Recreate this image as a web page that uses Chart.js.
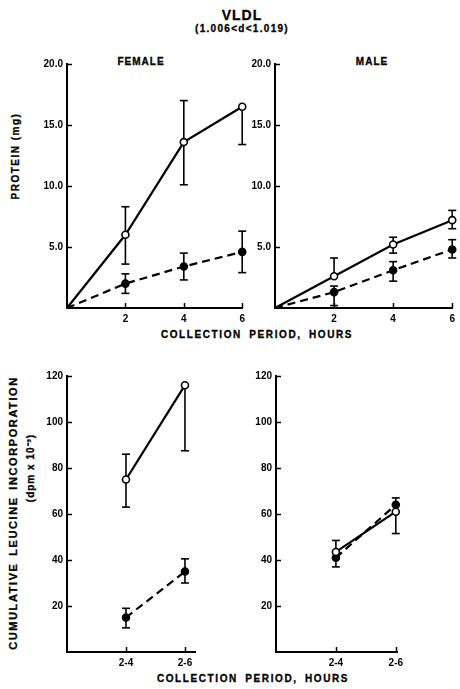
<!DOCTYPE html>
<html>
<head>
<meta charset="utf-8">
<script src="https://cdn.jsdelivr.net/npm/chart.js@4"></script>
<style>
  html, body { margin:0; padding:0; background:#fff; }
  #wrap { position:relative; width:460px; height:689px; overflow:hidden; background:#fff;
          font-family:"Liberation Sans", Arial, sans-serif; font-weight:bold; color:#000; }
  canvas { position:absolute; }
  .t { position:absolute; white-space:nowrap; transform:translate(-50%,-50%); line-height:1;
       -webkit-text-stroke:0.3px #000; }
  .r { transform:translate(-50%,-50%) rotate(-90deg); }
</style>
</head>
<body>
<div id="wrap">
  <div class="t" style="left:242px;top:15px;font-size:14px;letter-spacing:1px;">VLDL</div>
  <div class="t" style="left:242px;top:29px;font-size:10px;letter-spacing:1.3px;">(1.006&lt;d&lt;1.019)</div>
  <div class="t" style="left:141px;top:62px;font-size:10px;letter-spacing:1px;">FEMALE</div>
  <div class="t" style="left:372px;top:62px;font-size:10px;letter-spacing:1px;">MALE</div>
  <div class="t r" style="left:16px;top:156px;font-size:10px;letter-spacing:1.5px;">PROTEIN (mg)</div>
  <div class="t" style="left:257px;top:335px;font-size:10px;letter-spacing:1.6px;word-spacing:3px;">COLLECTION PERIOD, HOURS</div>
  <div class="t r" style="left:13px;top:513px;font-size:11px;letter-spacing:1.6px;word-spacing:2px;">CUMULATIVE LEUCINE INCORPORATION</div>
  <div class="t r" style="left:31px;top:468px;font-size:10px;letter-spacing:1px;">(dpm x 10⁻³)</div>
  <div class="t" style="left:253px;top:679px;font-size:10px;letter-spacing:1.6px;word-spacing:3px;">COLLECTION PERIOD, HOURS</div>

  <canvas id="c1" width="250" height="290" style="left:0px;top:50px;"></canvas>
  <canvas id="c2" width="230" height="290" style="left:230px;top:50px;"></canvas>
  <canvas id="c3" width="240" height="320" style="left:0px;top:360px;"></canvas>
  <canvas id="c4" width="230" height="320" style="left:230px;top:360px;"></canvas>
</div>
<script>
// ---------------- DATA ----------------
const hours = [0, 2, 4, 6];
const hourTicks = [2, 4, 6];
const proteinTicks = [5, 10, 15, 20];

const femaleOpen      = [0, 6.0, 13.6, 16.5];
const femaleOpenLow   = [null, 3.6, 10.1, 13.4];
const femaleOpenHigh  = [null, 8.3, 17.0, 16.5];
const femaleFilled    = [0, 2.0, 3.4, 4.6];
const femaleFilledLow = [null, 1.2, 2.3, 2.9];
const femaleFilledHigh= [null, 2.8, 4.5, 6.3];

const maleOpen        = [0, 2.6, 5.2, 7.2];
const maleOpenLow     = [null, 2.6, 4.5, 6.5];
const maleOpenHigh    = [null, 4.1, 5.8, 8.0];
const maleFilled      = [0, 1.3, 3.1, 4.8];
const maleFilledLow   = [null, 0.2, 2.2, 4.1];
const maleFilledHigh  = [null, 1.8, 3.8, 5.6];

const periods = ['2-4', '2-6'];
const leucineTicks = [20, 40, 60, 80, 100, 120];

const femaleOpenLeu       = [75, 116];
const femaleOpenLeuLow    = [63, 87.5];
const femaleOpenLeuHigh   = [86, 116];
const femaleFilledLeu     = [15, 35];
const femaleFilledLeuLow  = [10.5, 30];
const femaleFilledLeuHigh = [19, 40.5];

const maleOpenLeu         = [43.5, 61];
const maleOpenLeuLow      = [43.5, 51.5];
const maleOpenLeuHigh     = [48.5, 61];
const maleFilledLeu       = [41, 64];
const maleFilledLeuLow    = [37, 64];
const maleFilledLeuHigh   = [41, 67];

// ---------------- HELPERS ----------------
const FONT = { family: '"Liberation Sans", Arial, sans-serif', size: 10, weight: 'bold' };

const errPlugin = {
  id: 'errTicks',
  beforeDatasetsDraw(chart) {
    const ctx = chart.ctx, xs = chart.scales.x, ys = chart.scales.y;
    ctx.save();
    ctx.strokeStyle = '#000'; ctx.lineWidth = 1.6; ctx.setLineDash([]);
    chart.data.datasets.forEach(ds => {
      if (!ds.errLow) return;
      ds.data.forEach((p, i) => {
        const lo = ds.errLow[i], hi = ds.errHigh[i];
        if (lo == null || hi == null) return;
        const x = xs.getPixelForValue(p.x);
        const yl = ys.getPixelForValue(lo), yh = ys.getPixelForValue(hi);
        ctx.beginPath(); ctx.moveTo(x, yl); ctx.lineTo(x, yh); ctx.stroke();
        if (lo < p.y) { ctx.beginPath(); ctx.moveTo(x - 4, yl); ctx.lineTo(x + 4, yl); ctx.stroke(); }
        if (hi > p.y) { ctx.beginPath(); ctx.moveTo(x - 4, yh); ctx.lineTo(x + 4, yh); ctx.stroke(); }
      });
    });
    ctx.restore();
  },
  afterDraw(chart) {
    const ctx = chart.ctx, xs = chart.scales.x, ys = chart.scales.y, a = chart.chartArea;
    ctx.save();
    ctx.strokeStyle = '#000'; ctx.lineWidth = 1.5; ctx.setLineDash([]);
    ys.ticks.forEach(t => {
      const y = Math.round(ys.getPixelForValue(t.value)) + 0.5;
      ctx.beginPath(); ctx.moveTo(a.left, y); ctx.lineTo(a.left + 5, y); ctx.stroke();
    });
    xs.ticks.forEach(t => {
      const x = Math.round(xs.getPixelForValue(t.value)) + 0.5;
      ctx.beginPath(); ctx.moveTo(x, a.bottom); ctx.lineTo(x, a.bottom - 5); ctx.stroke();
    });
    ctx.restore();
  }
};

function series(xvals, yvals, lo, hi, filled, dashed) {
  return {
    data: xvals.map((x, i) => ({ x: x, y: yvals[i] })),
    errLow: lo, errHigh: hi,
    borderColor: '#000',
    borderWidth: 2.2,
    borderDash: dashed ? [8, 5] : [],
    pointRadius: xvals.map((x, i) => (x === 0 ? 0 : 3.5)),
    pointBorderWidth: 1.6,
    pointBorderColor: '#000',
    pointBackgroundColor: filled ? '#000' : '#fff',
    fill: false,
    tension: 0,
    clip: false
  };
}

function makeChart(id, datasets, o) {
  return new Chart(document.getElementById(id), {
    type: 'line',
    data: { datasets: datasets },
    plugins: [errPlugin],
    options: {
      responsive: false,
      animation: false,
      devicePixelRatio: 1,
      layout: { padding: o.padding },
      plugins: { legend: { display: false }, tooltip: { enabled: false } },
      scales: {
        x: {
          type: 'linear', min: o.xmin, max: o.xmax,
          grid: { display: false, drawTicks: false },
          border: { display: true, color: '#000', width: 2 },
          afterBuildTicks: s => { s.ticks = o.xticks.map(v => ({ value: v })); },
          afterFit: s => { s.height = o.xh; },
          ticks: { color: '#000', font: FONT, padding: 5, maxRotation: 0, autoSkip: false,
                   callback: o.xlabel }
        },
        y: {
          type: 'linear', min: o.ymin, max: o.ymax,
          grid: { display: false, drawTicks: false },
          border: { display: true, color: '#000', width: 2 },
          afterBuildTicks: s => { s.ticks = o.yticks.map(v => ({ value: v })); },
          afterFit: s => { s.width = o.yw; },
          ticks: { color: '#000', font: FONT, padding: 4, autoSkip: false,
                   callback: o.ylabel }
        }
      }
    }
  });
}

const protLabel = v => v.toFixed(1);
const hourLabel = v => String(v);
const leuLabel = v => String(v);
const periodPos = periods.map((p, i) => i + 1);
const periodLabel = v => periods[v - 1];

// Top-left: female protein
makeChart('c1', [
  series(hours, femaleOpen, femaleOpenLow, femaleOpenHigh, false, false),
  series(hours, femaleFilled, femaleFilledLow, femaleFilledHigh, true, true)
], { padding: { top: 14, right: 6, left: 0, bottom: 0 }, xmin: 0, xmax: 6, ymin: 0, ymax: 20,
     xticks: hourTicks, yticks: proteinTicks, xh: 32, yw: 67, xlabel: hourLabel, ylabel: protLabel });

// Top-right: male protein
makeChart('c2', [
  series(hours, maleOpen, maleOpenLow, maleOpenHigh, false, false),
  series(hours, maleFilled, maleFilledLow, maleFilledHigh, true, true)
], { padding: { top: 14, right: 6, left: 0, bottom: 0 }, xmin: 0, xmax: 6, ymin: 0, ymax: 20,
     xticks: hourTicks, yticks: proteinTicks, xh: 32, yw: 45, xlabel: hourLabel, ylabel: protLabel });

// Bottom-left: female leucine
makeChart('c3', [
  series(periodPos, femaleOpenLeu, femaleOpenLeuLow, femaleOpenLeuHigh, false, false),
  series(periodPos, femaleFilledLeu, femaleFilledLeuLow, femaleFilledLeuHigh, true, true)
], { padding: { top: 16, right: 45, left: 0, bottom: 0 }, xmin: 0, xmax: 2.17, ymin: 0, ymax: 120,
     xticks: periodPos, yticks: leucineTicks, xh: 28, yw: 67, xlabel: periodLabel, ylabel: leuLabel });

// Bottom-right: male leucine
makeChart('c4', [
  series(periodPos, maleOpenLeu, maleOpenLeuLow, maleOpenLeuHigh, false, false),
  series(periodPos, maleFilledLeu, maleFilledLeuLow, maleFilledLeuHigh, true, true)
], { padding: { top: 16, right: 63, left: 0, bottom: 0 }, xmin: 0, xmax: 2.02, ymin: 0, ymax: 120,
     xticks: periodPos, yticks: leucineTicks, xh: 28, yw: 46, xlabel: periodLabel, ylabel: leuLabel });
</script>
</body>
</html>
